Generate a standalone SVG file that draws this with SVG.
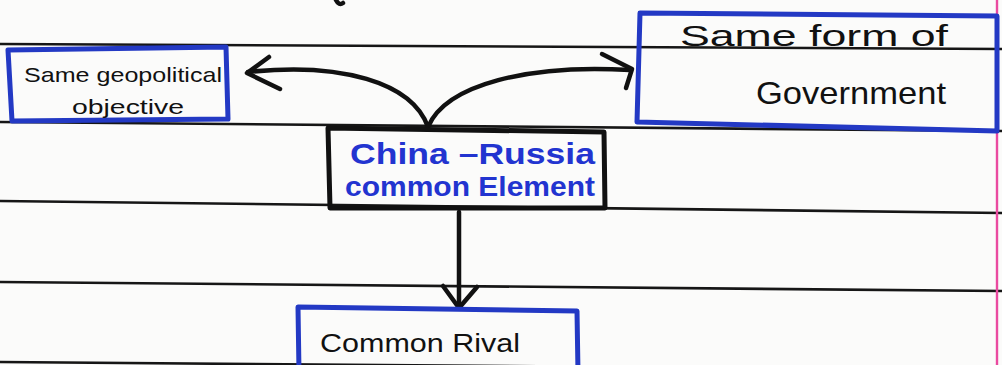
<svg xmlns="http://www.w3.org/2000/svg" width="1002" height="365" viewBox="0 0 1002 365">
  <style>
    .rule { stroke: #161616; stroke-width: 2.6; fill: none; stroke-linecap: round; }
    .margin { stroke: #ea4aa0; stroke-width: 2.4; fill: none; }
    .box-blue { fill: none; stroke: #2339c4; stroke-width: 5; stroke-linejoin: round; }
    .box-black { fill: none; stroke: #111; stroke-width: 5; stroke-linejoin: round; }
    .ink { font-family: "Liberation Sans", "DejaVu Sans", sans-serif; fill: #111; }
    .ink-blue { font-family: "Liberation Sans", "DejaVu Sans", sans-serif; fill: #2234d0; font-weight: bold; }
    .edge { fill: none; stroke: #111; stroke-width: 4.5; stroke-linecap: round; stroke-linejoin: round; }
  </style>

  <!-- paper -->
  <rect width="1002" height="365" fill="#fbfbfa"/>

  <!-- ruled notebook lines -->
  <g id="ruling">
    <path class="rule" d="M0,44 L1002,49"/>
    <path class="rule" d="M0,122 L1002,131"/>
    <path class="rule" d="M0,201 L1002,213"/>
    <path class="rule" d="M0,282 L1002,291"/>
    <path class="rule" d="M0,362 L1002,370"/>
    <path class="margin" d="M997,0 L997,365"/>
    <!-- stray pen stroke at the top edge -->
    <path class="edge" stroke-width="2.5" d="M336,0 Q339,6 343,3"/>
  </g>

  <!-- connectors -->
  <g id="connectors">
    <path class="edge" d="M428,127 C412,82 340,62 248,72"/>
    <path class="edge" d="M269,57 L247,73 L280,89"/>
    <path class="edge" d="M428,127 C446,84 530,64 630,70"/>
    <path class="edge" d="M602,54 L632,69 L626,88"/>
    <path class="edge" d="M459,212 L459,306"/>
    <path class="edge" d="M443,286 L459,308 L477,287"/>
  </g>

  <g id="node-geopolitical">
    <path class="box-blue" d="M8,50 L226,47 L228,119 L12,121 Z"/>
    <text class="ink" x="24" y="82" font-size="21" textLength="198" lengthAdjust="spacingAndGlyphs">Same geopolitical</text>
    <text class="ink" x="72" y="114" font-size="21" textLength="112" lengthAdjust="spacingAndGlyphs">objective</text>
  </g>

  <g id="node-government">
    <path class="box-blue" d="M640,13 L997,16 L997,131 L637,122 Z"/>
    <text class="ink" x="680" y="46" font-size="30" textLength="268" lengthAdjust="spacingAndGlyphs">Same form of</text>
    <text class="ink" x="756" y="104" font-size="32" textLength="190" lengthAdjust="spacingAndGlyphs">Government</text>
  </g>

  <g id="node-common">
    <path class="box-black" d="M328,128 L604,132 L605,208 L330,208 Z"/>
    <text class="ink-blue" x="350" y="164" font-size="30" textLength="245" lengthAdjust="spacingAndGlyphs">China –Russia</text>
    <text class="ink-blue" x="345" y="196" font-size="28" textLength="250" lengthAdjust="spacingAndGlyphs">common Element</text>
  </g>

  <g id="node-rival">
    <path class="box-blue" d="M299,372 L298,307 L577,311 L578,372"/>
    <text class="ink" x="320" y="352" font-size="26" textLength="200" lengthAdjust="spacingAndGlyphs">Common Rival</text>
  </g>
</svg>
